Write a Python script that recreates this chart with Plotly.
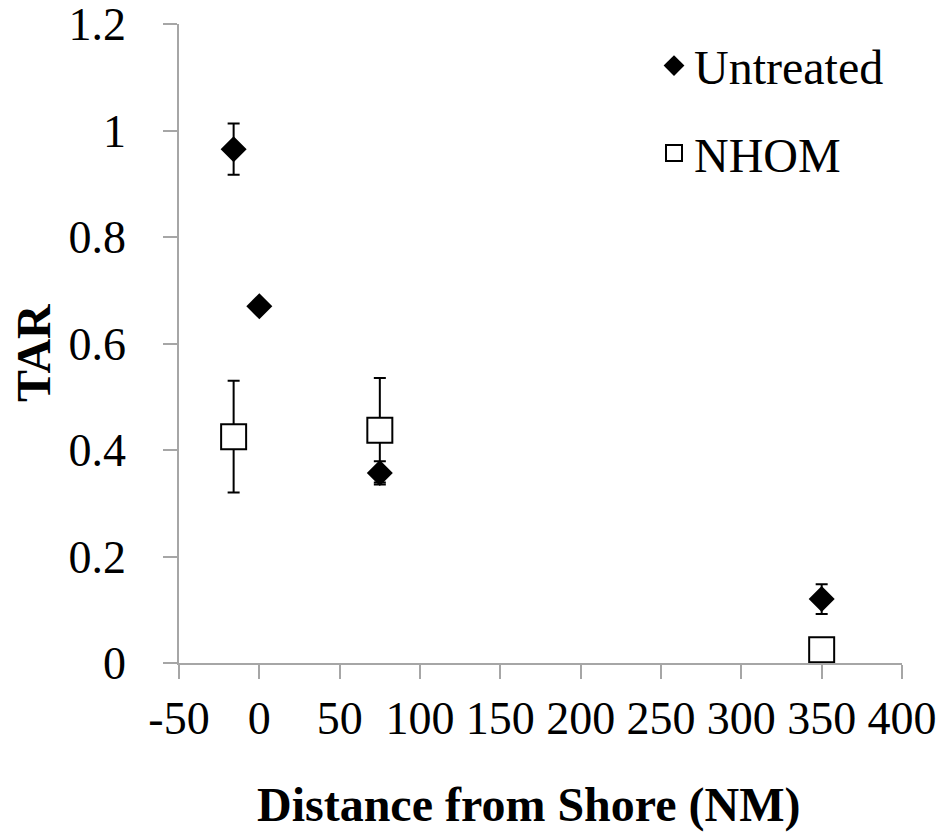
import plotly.graph_objects as go

# Data
untreated_x = [-16, 0, 75, 350]
untreated_y = [0.965, 0.67, 0.357, 0.12]
untreated_err = [0.048, 0.0, 0.022, 0.028]

nhom_x = [-16, 75, 350]
nhom_y = [0.425, 0.437, 0.025]
nhom_err = [0.105, 0.098, 0.0]

x_ticks = [-50, 0, 50, 100, 150, 200, 250, 300, 350, 400]
y_ticks = [0, 0.2, 0.4, 0.6, 0.8, 1, 1.2]
y_tick_labels = ["0", "0.2", "0.4", "0.6", "0.8", "1", "1.2"]

FONT = "Liberation Serif, Times New Roman, serif"
AXIS_COLOR = "#a6a6a6"

fig = go.Figure()

fig.add_trace(go.Scatter(
    x=untreated_x, y=untreated_y, mode="markers", name="Untreated",
    legendgroup="u",
    marker=dict(symbol="diamond", size=20, color="black", line=dict(width=0)),
    error_y=dict(type="data", array=untreated_err, visible=True,
                 color="black", thickness=2, width=6),
))

fig.add_trace(go.Scatter(
    x=nhom_x, y=nhom_y, mode="markers", name="NHOM",
    legendgroup="n",
    marker=dict(symbol="square", size=25, color="white",
                line=dict(width=2, color="black")),
    error_y=dict(type="data", array=nhom_err, visible=True,
                 color="black", thickness=2, width=6),
))

fig.update_layout(
    width=938, height=834,
    margin=dict(l=179, r=36, t=24, b=171, autoexpand=False),
    paper_bgcolor="white", plot_bgcolor="white",
    font=dict(family=FONT, color="black", size=46),
    legend=dict(
        x=0.657, y=0.994, xanchor="left", yanchor="top",
        font=dict(size=48, family=FONT, color="black"),
        bgcolor="rgba(0,0,0,0)", borderwidth=0,
        traceorder="grouped", tracegroupgap=22,
        itemsizing="trace",
    ),
    xaxis=dict(
        range=[-50, 400], tickvals=x_ticks, ticktext=[str(v) for v in x_ticks],
        showgrid=False, zeroline=False, automargin=False,
        showline=True, linecolor=AXIS_COLOR, linewidth=1.5,
        ticks="outside", ticklen=14, tickcolor=AXIS_COLOR, tickwidth=1.5,
        tickfont=dict(size=46, family=FONT),
        ticklabelstandoff=0, ticklabeloverflow="allow",
    ),
    yaxis=dict(
        range=[0, 1.2], tickvals=y_ticks, ticktext=y_tick_labels,
        showgrid=False, zeroline=False, automargin=False,
        showline=True, linecolor=AXIS_COLOR, linewidth=1.5,
        ticks="outside", ticklen=14, tickcolor=AXIS_COLOR, tickwidth=1.5,
        tickfont=dict(size=46, family=FONT),
        ticklabelstandoff=28, ticklabeloverflow="allow",
    ),
    annotations=[
        dict(text="<b>Distance from Shore (NM)</b>", xref="paper", yref="paper",
             x=(528 - 179) / 723, y=-(805 - 663) / 639, xanchor="center", yanchor="middle",
             showarrow=False, font=dict(size=48, family=FONT, color="black")),
        dict(text="<b>TAR</b>", xref="paper", yref="paper",
             x=(33 - 179) / 723, y=(663 - 353) / 639, xanchor="center", yanchor="middle",
             textangle=-90, showarrow=False, font=dict(size=48, family=FONT, color="black")),
    ],
)

fig.write_html("out.html")
